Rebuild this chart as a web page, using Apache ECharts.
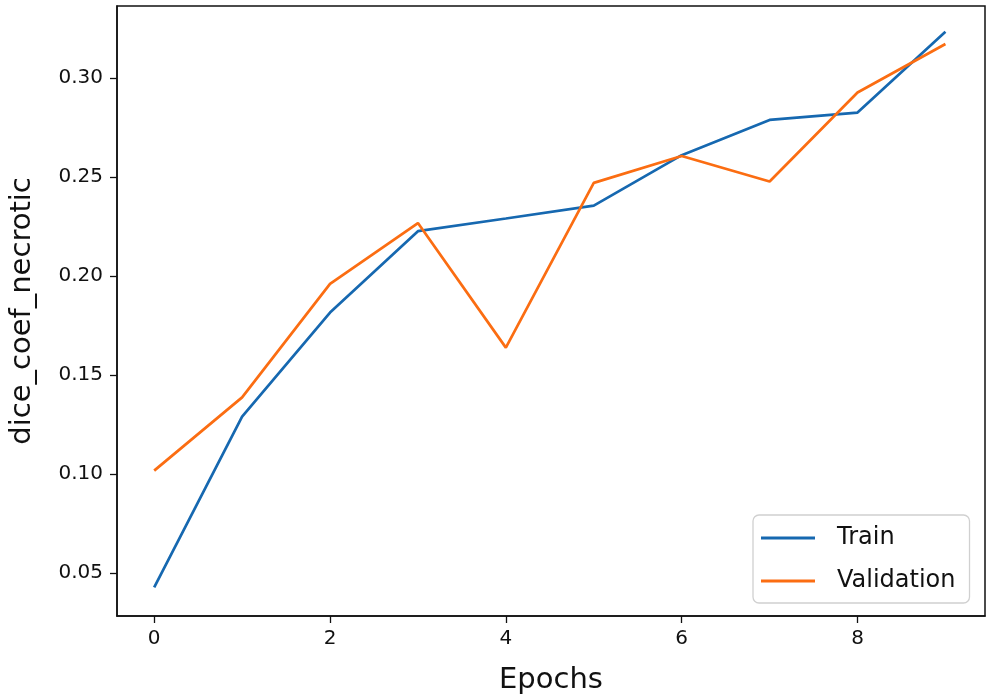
<!DOCTYPE html>
<html>
<head>
<meta charset="utf-8">
<script src="https://cdn.jsdelivr.net/npm/echarts@6/dist/echarts.min.js"></script>
<style>html,body{margin:0;padding:0;background:#fff;}#c{width:991px;height:700px;}</style>
</head>
<body>
<div id="c"></div>
<script>
const epochs = [0, 1, 2, 3, 4, 5, 6, 7, 8, 9];
const train = [0.0428, 0.129, 0.1815, 0.2226, 0.229, 0.2355, 0.261, 0.2788, 0.2825, 0.3233];
const validation = [0.1017, 0.1387, 0.196, 0.2267, 0.1638, 0.247, 0.2606, 0.2477, 0.2926, 0.3171];
const xTicks = [0, 2, 4, 6, 8];
const yTicks = [0.05, 0.10, 0.15, 0.20, 0.25, 0.30];

const font = 'DejaVu Sans';
const chart = echarts.init(document.getElementById('c'), null, {renderer: 'canvas'});
chart.setOption({
  animation: false,
  backgroundColor: '#fff',
  grid: {left: 115, right: 6, top: 6, bottom: 83, show: true, borderColor: '#111', borderWidth: 1.5, backgroundColor: 'transparent'},
  xAxis: {
    type: 'value', min: -0.423, max: 9.45,
    name: 'Epochs', nameLocation: 'middle', nameGap: 50,
    nameTextStyle: {fontFamily: font, fontSize: 29, color: '#111'},
    axisLine: {show: true, onZero: false, lineStyle: {color: '#111', width: 1.5}},
    axisTick: {show: true, length: 7, lineStyle: {color: '#111', width: 1.3}, customValues: xTicks},
    axisLabel: {fontFamily: font, fontSize: 20, color: '#111', margin: 13, customValues: xTicks, formatter: v => String(v)},
    splitLine: {show: false}
  },
  yAxis: {
    type: 'value', min: 0.0283, max: 0.3363,
    name: 'dice_coef_necrotic', nameLocation: 'middle', nameGap: 80,
    nameTextStyle: {fontFamily: font, fontSize: 29, color: '#111'},
    axisLine: {show: true, onZero: false, lineStyle: {color: '#111', width: 1.5}},
    axisTick: {show: true, length: 7, lineStyle: {color: '#111', width: 1.3}, customValues: yTicks},
    axisLabel: {fontFamily: font, fontSize: 20, color: '#111', margin: 14, customValues: yTicks, formatter: v => v.toFixed(2)},
    splitLine: {show: false}
  },
  legend: {
    orient: 'vertical', left: 753, top: 515,
    padding: [9, 14, 8, 8],
    itemGap: 15, itemWidth: 54, itemHeight: 3,
    icon: 'rect',
    borderColor: '#d0d0d0', borderWidth: 1.3, borderRadius: 6,
    backgroundColor: '#fff',
    textStyle: {fontFamily: font, fontSize: 24, color: '#111', padding: [0, 0, 0, 17], lineHeight: 28},
    data: ['Train', 'Validation']
  },
  series: [
    {name: 'Train', type: 'line', data: epochs.map((e, i) => [e, train[i]]), showSymbol: false, symbol: 'none',
     lineStyle: {color: '#1668b0', width: 2.7}, itemStyle: {color: '#1668b0'}},
    {name: 'Validation', type: 'line', data: epochs.map((e, i) => [e, validation[i]]), showSymbol: false, symbol: 'none',
     lineStyle: {color: '#fb6d12', width: 2.7}, itemStyle: {color: '#fb6d12'}}
  ]
});
</script>
</body>
</html>
